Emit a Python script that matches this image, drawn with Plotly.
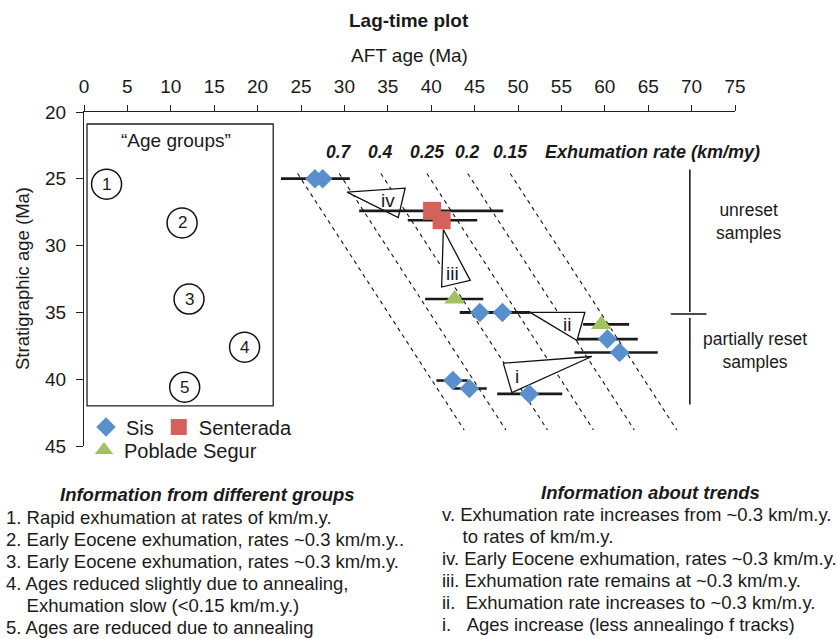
import plotly.graph_objects as go

# ---------------- data ----------------
# Sis samples: AFT age, stratigraphic age, and AFT age range (error bar ends)
sis_aft = [26.6, 27.5, 45.6, 48.2, 60.3, 61.7, 42.5, 44.4, 51.3]
sis_strat = [25.0, 25.0, 35.0, 35.0, 37.0, 38.0, 40.1, 40.7, 41.1]
sis_lo = [22.7, 22.7, 43.3, 43.3, 56.9, 56.5, 40.6, 42.5, 47.6]
sis_hi = [30.6, 30.6, 51.4, 51.4, 63.8, 66.1, 44.2, 46.4, 55.1]

# Senterada samples
sen_aft = [40.1, 41.2]
sen_strat = [27.4, 28.1]
sen_lo = [31.7, 37.3]
sen_hi = [48.3, 45.3]

# Poblade Segur samples
pob_aft = [42.7, 59.6]
pob_strat = [34.0, 35.9]
pob_lo = [39.3, 57.5]
pob_hi = [46.0, 62.8]

# Constant lag-time lines (lag in m.y.) and the exhumation rate each one represents
lag_times = [0.0, 4.8, 9.6, 14.9, 19.6, 24.5]
rate_labels = ["", "0.7", "0.4", "0.25", "0.2", "0.15"]
lag_strat_top = 24.6
lag_strat_bottom = 43.8

# Trend triangles (AFT age, stratigraphic age vertices) and their labels
trend_names = ["iv", "iii", "ii", "i"]
trend_x = [[30.3, 37.0, 36.2], [41.4, 41.2, 44.5], [51.4, 57.7, 56.8], [48.3, 58.5, 49.3]]
trend_y = [[26.0, 25.7, 27.9], [28.8, 33.1, 32.6], [35.0, 35.0, 37.1], [38.8, 38.3, 41.0]]
trend_label_x = [35.0, 42.4, 55.6, 49.9]
trend_label_y = [26.6, 32.1, 35.9, 39.8]

# "Age groups" circles
group_ids = ["1", "2", "3", "4", "5"]
group_x = [2.6, 11.3, 12.1, 18.5, 11.6]
group_y = [25.4, 28.3, 34.0, 37.6, 40.6]

x_ticks = list(range(0, 80, 5))
y_ticks = list(range(20, 50, 5))

left_title = "Information from different groups"
left_lines = [
    "1. Rapid exhumation at rates of km/m.y.",
    "2. Early Eocene exhumation, rates ~0.3 km/m.y..",
    "3. Early Eocene exhumation, rates ~0.3 km/m.y.",
    "4. Ages reduced slightly due to annealing,",
    "    Exhumation slow (<0.15 km/m.y.)",
    "5. Ages are reduced due to annealing",
]
right_title = "Information about trends"
right_lines = [
    "v. Exhumation rate increases from ~0.3 km/m.y.",
    "    to rates of km/m.y.",
    "iv. Early Eocene exhumation, rates ~0.3 km/m.y.",
    "iii. Exhumation rate remains at ~0.3 km/m.y.",
    "ii.  Exhumation rate increases to ~0.3 km/m.y.",
    "i.   Ages increase (less annealingo f tracks)",
]

# ---------------- layout geometry ----------------
W, H = 837, 639
PL, PR, PT, PB = 84, 735, 112, 446  # plot area in pixels

def pxp(x):
    return (x - PL) / (PR - PL)

def pyp(y):
    return (PB - y) / (PB - PT)

SANS = "Liberation Sans, Arial, Helvetica, sans-serif"

BLUE = "#5a8fcd"
RED = "#d2625a"
GREEN = "#a2c262"
INK = "#1a1a1a"

fig = go.Figure()

# dashed constant lag-time lines
lx, ly = [], []
for lag in lag_times:
    lx += [lag_strat_top + lag, lag_strat_bottom + lag, None]
    ly += [lag_strat_top, lag_strat_bottom, None]
fig.add_trace(go.Scatter(x=lx, y=ly, mode="lines", showlegend=False, hoverinfo="skip",
                         line=dict(color="#111", width=1.1, dash="4px,4px")))

# trend triangles
for tx, ty in zip(trend_x, trend_y):
    fig.add_trace(go.Scatter(x=tx + [tx[0]], y=ty + [ty[0]], mode="lines", fill="toself",
                             fillcolor="white", showlegend=False, hoverinfo="skip",
                             line=dict(color="#111", width=1.3)))


def series(name, xs, ys, lo, hi, symbol, size, color, legend):
    return go.Scatter(
        x=xs, y=ys, mode="markers", name=name, legend=legend,
        marker=dict(symbol=symbol, size=size, color=color, line=dict(width=0)),
        error_x=dict(type="data", symmetric=False,
                     array=[h - v for h, v in zip(hi, xs)],
                     arrayminus=[v - l for l, v in zip(lo, xs)],
                     thickness=2.6, width=0, color=INK),
    )


fig.add_trace(series("Sis", sis_aft, sis_strat, sis_lo, sis_hi, "diamond", 15, BLUE, "legend"))
fig.add_trace(series("Senterada", sen_aft, sen_strat, sen_lo, sen_hi, "square", 18, RED, "legend"))
fig.add_trace(series("Poblade Segur", pob_aft, pob_strat, pob_lo, pob_hi, "triangle-up", 18, GREEN, "legend2"))

annotations = []

def note(text, x, y, size=18, xref="paper", yref="paper", xanchor="center", yanchor="middle",
         angle=0):
    annotations.append(dict(text=text, x=x, y=y, xref=xref, yref=yref, showarrow=False,
                            xanchor=xanchor, yanchor=yanchor, textangle=angle,
                            font=dict(size=size, family=SANS, color=INK)))

# titles
note("<b>Lag-time plot</b>", pxp(409), pyp(20), size=19)
note("AFT age (Ma)", pxp(409), pyp(55), size=19)
note("Stratigraphic age (Ma)", pxp(22), pyp(279), size=18.5, angle=-90)

# rate labels above the lag lines
for lag, lab in zip(lag_times, rate_labels):
    if lab:
        note("<b><i>%s</i></b>" % lab, lag_strat_top + lag, 23.0, size=17.5, xref="x", yref="y")
note("<b><i>Exhumation rate (km/my)</i></b>", 52.9, 23.0, size=18, xref="x", yref="y", xanchor="left")

# trend labels
for name, tx, ty in zip(trend_names, trend_label_x, trend_label_y):
    note(name, tx, ty, size=19, xref="x", yref="y")

# age groups box
note("\u201cAge groups\u201d", 10.6, 22.1, size=19, xref="x", yref="y")
for gid, gx, gy in zip(group_ids, group_x, group_y):
    note(gid, gx, gy, size=17, xref="x", yref="y")

# reset brackets text
note("unreset<br>samples", pxp(748), pyp(221), size=17.5)
note("partially reset<br>samples", pxp(755), pyp(350), size=17.5)

def nb(t):
    return t.replace("    ", "&nbsp;&nbsp;&nbsp;&nbsp;").replace("   ", "&nbsp;&nbsp;&nbsp;").replace("  ", "&nbsp;&nbsp;")

# bottom text blocks
note("<b><i>%s</i></b>" % left_title, pxp(207), pyp(494), size=18.5)
left_y = [517, 539, 561, 583, 605, 627]
for t, y in zip(left_lines, left_y):
    note(nb(t), pxp(4), pyp(y), size=18.5, xanchor="left")
note("<b><i>%s</i></b>" % right_title, pxp(650), pyp(492), size=18.5)
right_y = [514, 536, 558, 580, 602, 624]
for t, y in zip(right_lines, right_y):
    note(nb(t), pxp(440), pyp(y), size=18.5, xanchor="left")

shapes = []
# age groups frame
shapes.append(dict(type="rect", xref="x", yref="y", x0=0.35, x1=21.8, y0=20.9, y1=42.0,
                   line=dict(color="#222", width=1.3)))
# circles around group numbers
for gx, gy in zip(group_x, group_y):
    shapes.append(dict(type="circle", xref="x", yref="y", xsizemode="pixel", ysizemode="pixel",
                       xanchor=gx, yanchor=gy, x0=-15, x1=15, y0=-15, y1=15,
                       line=dict(color="#111", width=1.5)))
# unreset / partially reset bracket
bracket_x = 69.8
shapes.append(dict(type="line", xref="x", yref="y", x0=bracket_x, x1=bracket_x, y0=24.3, y1=34.97,
                   line=dict(color="#111", width=1.5)))
shapes.append(dict(type="line", xref="x", yref="y", x0=67.6, x1=71.7, y0=35.12, y1=35.12,
                   line=dict(color="#111", width=1.5)))
shapes.append(dict(type="line", xref="x", yref="y", x0=bracket_x, x1=bracket_x, y0=35.42, y1=41.9,
                   line=dict(color="#111", width=1.5)))

fig.update_layout(
    width=W, height=H, autosize=False,
    margin=dict(l=PL, r=W - PR, t=PT, b=H - PB, pad=0),
    paper_bgcolor="white", plot_bgcolor="white",
    font=dict(family=SANS, color=INK),
    xaxis=dict(range=[0, 75], side="top", tickvals=x_ticks, showgrid=False, zeroline=False,
               showline=True, linecolor="#222", linewidth=1.3, ticks="outside", ticklen=6,
               tickcolor="#222", tickwidth=1.2, ticklabelstandoff=4,
               tickfont=dict(size=19, family=SANS)),
    yaxis=dict(range=[45, 20], tickvals=y_ticks, showgrid=False, zeroline=False,
               showline=True, linecolor="#222", linewidth=1.3, ticks="outside", ticklen=7,
               tickcolor="#222", tickwidth=1.2, ticklabelstandoff=6,
               tickfont=dict(size=19, family=SANS)),
    legend=dict(orientation="h", x=pxp(86), xanchor="left", y=pyp(427), yanchor="middle",
                bgcolor="rgba(0,0,0,0)", font=dict(size=20, family=SANS), itemwidth=30,
                tracegroupgap=0),
    legend2=dict(orientation="h", x=pxp(84), xanchor="left", y=pyp(450), yanchor="middle",
                 bgcolor="rgba(0,0,0,0)", font=dict(size=20, family=SANS), itemwidth=30),
    annotations=annotations,
    shapes=shapes,
)

fig.write_html("out.html")
